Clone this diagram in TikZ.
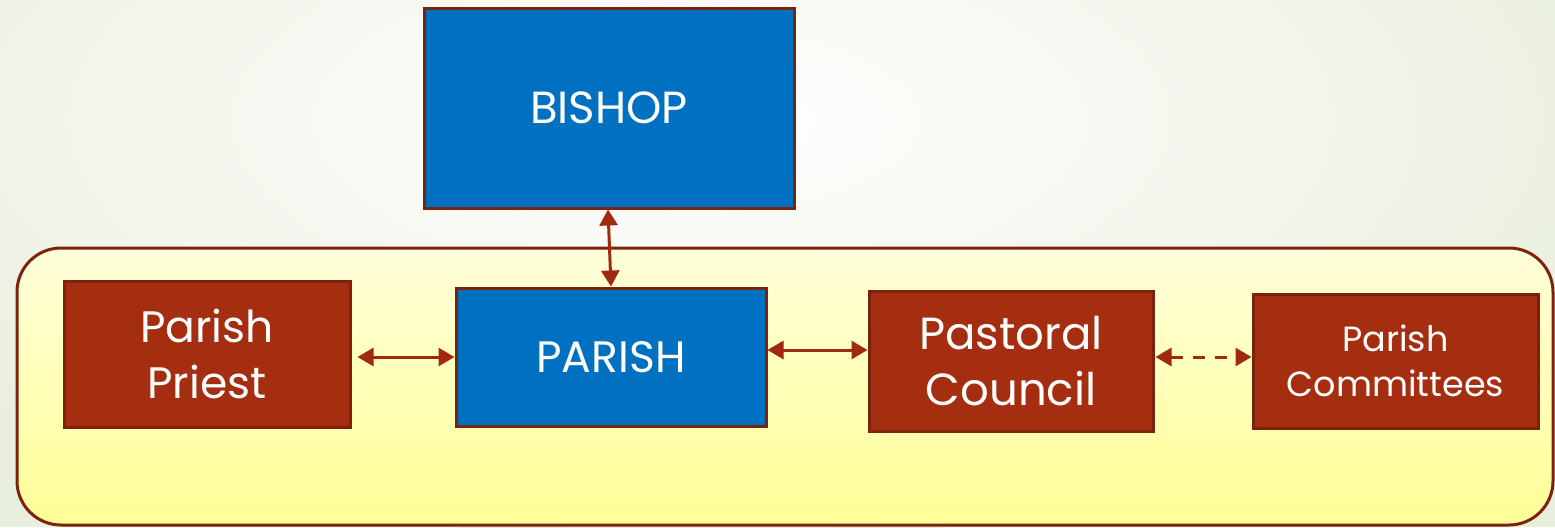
\documentclass[tikz,border=0pt]{standalone}
\usepackage{fontspec}
\setmainfont{Poppins}
\usetikzlibrary{arrows.meta}
\definecolor{bgc}{HTML}{E9EFDD}
\definecolor{boxred}{HTML}{A52D10}
\definecolor{edgered}{HTML}{7E2210}
\definecolor{boxblue}{HTML}{0070C0}
\definecolor{yelA}{HTML}{FFFFDA}
\definecolor{yelB}{HTML}{FFFF96}
\definecolor{arrred}{HTML}{A0290F}
\tikzset{
  px/.style={x=0.5pt,y=-0.5pt},
  bluebox/.style={draw=edgered, line width=1.5pt, fill=boxblue, text=white, inner sep=0pt, align=center},
  redbox/.style={draw=edgered, line width=1.5pt, fill=boxred, text=white, inner sep=0pt, align=center},
  link/.style={draw=arrred, line width=1.5pt, {Triangle[length=8pt,width=9pt]}-{Triangle[length=8pt,width=9pt]}},
}
\begin{document}
\begin{tikzpicture}[px]
\useasboundingbox (0,0) rectangle (1555,527);
\fill[bgc] (0,0) rectangle (1555,527);
\begin{scope}
\clip (0,0) rectangle (1555,527);
\shade[inner color=white, outer color=bgc] (700,120) ellipse (1000 and 420);
\end{scope}
% panel
\shade[top color=yelA, bottom color=yelB, draw=edgered, line width=1.5pt, rounded corners=22pt]
  (17,248) rectangle (1553,525);
% boxes
\node[bluebox, minimum width=185pt, minimum height=100pt, font=\fontsize{22.5}{26}\selectfont] (bishop) at (609,108) {BISHOP};
\node[bluebox, minimum width=155pt, minimum height=69pt, font=\fontsize{22}{26}\selectfont] (parish) at (611,357) {PARISH};
\node[redbox, minimum width=143pt, minimum height=73pt, font=\fontsize{22}{28}\selectfont] (priest) at (207,354) {Parish\\Priest};
\node[redbox, minimum width=142pt, minimum height=70pt, font=\fontsize{22.5}{28}\selectfont] (pastoral) at (1011,361) {Pastoral\\Council};
\node[redbox, minimum width=142.5pt, minimum height=67pt, font=\fontsize{17.5}{22.5}\selectfont] (committees) at (1395.5,361) {Parish\\Committees};
% connectors
\coordinate (a1) at ([xshift=3pt,yshift=-1.5pt]priest.east);
\draw[link] (a1) -- (a1 -| parish.west);
\coordinate (a2) at ([yshift=3.5pt]parish.east);
\draw[link] (a2) -- (a2 -| pastoral.west);
\coordinate (a3) at ([xshift=0.5pt,yshift=2pt]pastoral.east);
\draw[link, dashed, dash pattern=on 6pt off 5pt] (a3) -- (a3 -| committees.west);
\draw[link] ([xshift=-0.5pt]bishop.south) -- ([xshift=0pt]parish.north);
\end{tikzpicture}
\end{document}
